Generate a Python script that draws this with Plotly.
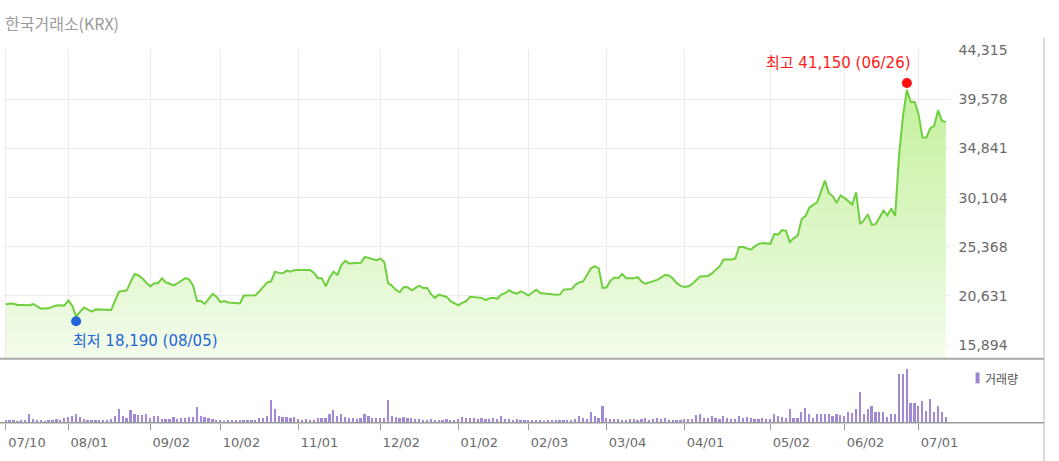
import pandas as pd
import plotly.graph_objects as go

# ---------------- data ----------------
holidays = ["2024-08-15", "2024-09-16", "2024-09-17", "2024-09-18", "2024-10-01",
            "2024-10-03", "2024-10-09", "2024-12-25", "2024-12-31", "2025-01-01",
            "2025-01-27", "2025-01-28", "2025-01-29", "2025-01-30", "2025-03-03",
            "2025-05-01", "2025-05-05", "2025-05-06", "2025-06-03", "2025-06-06"]
dates = [d.strftime("%Y-%m-%d") for d in pd.bdate_range("2024-07-10", "2025-07-10")
         if d.strftime("%Y-%m-%d") not in holidays]

close = [
    19810, 19900, 19870, 19760, 19750, 19760, 19740, 19850, 19600, 19400,
    19420, 19430, 19600, 19710, 19720, 19700, 20190, 19680, 18650, 19100,
    19500, 19300, 19110, 19330, 19300, 19290, 19300, 19280, 20200, 21050,
    21100, 21170, 22000, 22740, 22600, 22300, 21900, 21550, 21860, 21860,
    22330, 21930, 21800, 21650, 21850, 22100, 22340, 22200, 21600, 20130,
    20130, 19870, 20350, 20820, 20550, 20040, 20130, 20000, 19970, 19920,
    19900, 20660, 20680, 20690, 20700, 21080, 21500, 21930, 22020, 22970,
    22850, 22810, 23070, 22970, 23120, 23130, 23120, 23130, 23120, 22850,
    22340, 22340, 21550, 22400, 22970, 22650, 23600, 24010, 23760, 23780,
    23800, 23830, 24390, 24300, 24230, 24070, 24230, 23900, 21860, 21600,
    21200, 20980, 21480, 21460, 21170, 21400, 21610, 21390, 21390, 20800,
    20440, 20750, 20640, 20530, 20130, 19900, 19710, 19950, 20130, 20540,
    20500, 20460, 20440, 20220, 20400, 20440, 20350, 20750, 20900, 21170,
    20950, 20850, 21070, 20900, 20660, 20950, 21230, 20900, 20850, 20800,
    20760, 20750, 20760, 21230, 21260, 21290, 21700, 21930, 22020, 22600,
    23290, 23500, 23290, 21390, 21460, 22100, 22400, 22340, 22740, 22340,
    22340, 22340, 22430, 22000, 21800, 21960, 22050, 22180, 22400, 22650,
    22600, 22300, 21860, 21600, 21480, 21550, 21800, 22200, 22500, 22530,
    22550, 22800, 23200, 23500, 24140, 24140, 24140, 24230, 25340, 25340,
    25200, 25080, 25400, 25650, 25720, 25700, 25650, 26600, 26530, 26980,
    26910, 25810, 26200, 26440, 28020, 28330, 29130, 29400, 29660, 30700,
    31740, 30550, 30230, 29600, 30320, 30080, 29800, 29440, 30610, 27550,
    27930, 28490, 27480, 27550, 28200, 28870, 28400, 29060, 28330, 34180,
    37970, 40500, 39320, 39320, 38130, 35910, 35910, 36770, 37020, 38540,
    37500, 37400,
]

volume_k = [
    125, 170, 170, 100, 150, 125, 470, 200, 170, 170,
    100, 125, 170, 200, 170, 250, 300, 350, 470, 300,
    220, 170, 170, 125, 125, 125, 170, 200, 335, 700,
    370, 250, 675, 470, 420, 420, 470, 250, 370, 335,
    200, 200, 200, 300, 200, 250, 250, 300, 300, 795,
    335, 300, 250, 200, 125, 170, 100, 170, 170, 170,
    125, 170, 170, 170, 125, 250, 250, 335, 1180, 700,
    370, 285, 285, 250, 285, 220, 170, 200, 125, 170,
    235, 235, 235, 470, 640, 370, 470, 285, 235, 235,
    200, 235, 470, 335, 250, 235, 250, 250, 1180, 370,
    300, 250, 285, 235, 250, 200, 200, 170, 170, 200,
    170, 170, 170, 200, 170, 170, 200, 300, 235, 235,
    235, 200, 235, 200, 200, 235, 200, 335, 200, 200,
    170, 200, 170, 170, 170, 125, 170, 125, 100, 125,
    125, 170, 170, 170, 125, 170, 200, 335, 250, 220,
    550, 335, 250, 845, 250, 220, 220, 220, 170, 170,
    200, 220, 150, 200, 250, 170, 200, 250, 200, 250,
    170, 170, 125, 170, 200, 200, 200, 420, 470, 250,
    250, 335, 250, 200, 370, 250, 220, 200, 370, 250,
    300, 250, 200, 200, 250, 200, 200, 470, 335, 285,
    250, 710, 250, 250, 540, 760, 470, 250, 470, 470,
    470, 470, 335, 470, 420, 335, 540, 500, 710, 1550,
    470, 710, 845, 540, 540, 540, 285, 470, 470, 2500,
    2500, 2725, 1000, 1035, 885, 1135, 585, 1200, 535, 835,
    550, 285,
]

tick_dates = ["2024-07-10", "2024-08-01", "2024-09-02", "2024-10-02", "2024-11-01",
              "2024-12-02", "2025-01-02", "2025-02-03", "2025-03-04", "2025-04-01",
              "2025-05-02", "2025-06-02", "2025-07-01"]
tick_labels = ["07/10", "08/01", "09/02", "10/02", "11/01", "12/02", "01/02",
               "02/03", "03/04", "04/01", "05/02", "06/02", "07/01"]

price_ticks = [15894, 20631, 25368, 30104, 34841, 39578, 44315]

high_date, high_value = "2025-06-26", 41150
low_date, low_value = "2024-08-05", 18190

title_text = "한국거래소(KRX)"
legend_text = "거래량"

# ---------------- figure ----------------
W, H = 1059, 461
def px(yp):
    return 1 - yp / H

x_dom = [4 / W, 957 / W]
y_rng = [14660, 44360]
v_rng = [0, 3200]

fig = go.Figure()

fig.add_trace(go.Scatter(
    x=dates, y=close, mode="lines", xaxis="x", yaxis="y",
    line=dict(color="#6fcf3f", width=2),
    fill="tozeroy",
    fillgradient=dict(type="vertical", start=y_rng[0], stop=y_rng[1],
                      colorscale=[[0, "#f4fced"], [1, "#bcef90"]]),
    hoverinfo="x+y", showlegend=False,
))

fig.add_trace(go.Scatter(
    x=[high_date], y=[high_value], mode="markers", xaxis="x", yaxis="y",
    marker=dict(color="#ff1010", size=10), showlegend=False, hoverinfo="skip"))
fig.add_trace(go.Scatter(
    x=[low_date], y=[low_value], mode="markers", xaxis="x", yaxis="y",
    marker=dict(color="#1f66d9", size=10), showlegend=False, hoverinfo="skip"))

fig.add_trace(go.Bar(
    x=dates, y=volume_k, xaxis="x2", yaxis="y2", width=0.45,
    marker=dict(color="#a08ad8", line=dict(width=0)), showlegend=False))

tick_font = dict(family="DejaVu Sans", size=13, color="#6a6a6a")

fig.update_layout(
    width=W, height=H, margin=dict(l=0, r=0, t=0, b=0),
    paper_bgcolor="white", plot_bgcolor="white",
    bargap=0,
    xaxis=dict(domain=x_dom, anchor="y", type="category", range=[-0.5, 242],
               tickvals=tick_dates, showticklabels=False, ticks="",
               showgrid=True, gridcolor="#ebebeb", gridwidth=1,
               zeroline=False, showline=False, fixedrange=True),
    yaxis=dict(domain=[px(356), px(42.5)], anchor="x", side="right", range=y_rng,
               tickvals=price_ticks, ticktext=[f"{v:,}" for v in price_ticks],
               tickfont=dict(family="DejaVu Sans", size=14, color="#6a6a6a"),
               ticks="outside", ticklen=5, tickcolor="rgba(0,0,0,0)",
               showgrid=True, gridcolor="#ebebeb", gridwidth=1,
               zeroline=False, showline=False, fixedrange=True),
    xaxis2=dict(domain=x_dom, anchor="y2", type="category", range=[-0.5, 242],
                tickvals=tick_dates, ticktext=tick_labels, tickfont=tick_font,
                ticks="outside", ticklen=6, tickcolor="#999999", tickwidth=1,
                ticklabelshift=21, ticklabelstandoff=2,
                showgrid=False, zeroline=False, showline=False, fixedrange=True),
    yaxis2=dict(domain=[px(422), px(358)], anchor="x2", range=v_rng,
                visible=False, fixedrange=True),
    shapes=[
        dict(type="line", xref="paper", yref="paper", x0=0, x1=1052 / W,
             y0=px(357), y1=px(357), line=dict(color="#a8a8a8", width=2)),
        dict(type="line", xref="paper", yref="paper", x0=0, x1=1052 / W,
             y0=px(422), y1=px(422), line=dict(color="#9a9a9a", width=1.5)),
        dict(type="line", xref="paper", yref="paper", x0=1052 / W, x1=1052 / W,
             y0=px(30), y1=0, line=dict(color="#bbbbbb", width=1)),
        dict(type="rect", xref="paper", yref="paper", x0=983 / W, x1=987 / W,
             y0=px(382), y1=px(371), line=dict(width=0), fillcolor="#9b85d5"),
    ],
    annotations=[
        dict(text=title_text, xref="paper", yref="paper", x=3 / W, y=px(15),
             xanchor="left", yanchor="middle", showarrow=False,
             font=dict(family="Noto Sans CJK KR", size=16, color="#9a9a9a")),
        dict(text=legend_text, xref="paper", yref="paper", x=990 / W, y=px(377),
             xanchor="left", yanchor="middle", showarrow=False,
             font=dict(family="Noto Sans CJK KR", size=12, color="#555555")),
        dict(text=f"최고 {high_value:,} ({high_date[5:7]}/{high_date[8:10]})",
             xref="x", yref="y", x=high_date, y=high_value,
             xanchor="right", yanchor="middle", xshift=6, yshift=20,
             showarrow=False,
             font=dict(family="DejaVu Sans, Noto Sans CJK KR", size=15, color="#ff1a1a")),
        dict(text=f"최저 {low_value:,} ({low_date[5:7]}/{low_date[8:10]})",
             xref="x", yref="y", x=low_date, y=low_value,
             xanchor="left", yanchor="middle", xshift=-5, yshift=-20,
             showarrow=False,
             font=dict(family="DejaVu Sans, Noto Sans CJK KR", size=15, color="#1f66d9")),
    ],
)

fig.write_html("out.html",
               config={"displayModeBar": False},
               post_script="document.body.style.margin='0';document.body.style.overflow='hidden';")
